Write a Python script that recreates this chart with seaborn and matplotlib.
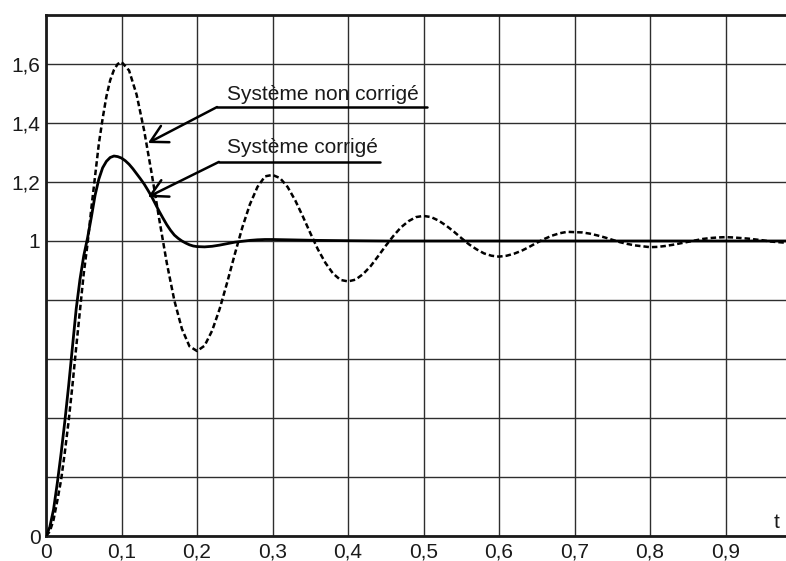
import matplotlib
matplotlib.use("Agg")
import matplotlib.pyplot as plt
import numpy as np
import pandas as pd
import seaborn as sns

# uncorrected system (dashed)
t_nc = [0.000, 0.005, 0.010, 0.015, 0.020, 0.025, 0.030, 0.035, 0.040, 0.045,
        0.050, 0.055, 0.060, 0.065, 0.070, 0.075, 0.080, 0.085, 0.090, 0.095,
        0.10, 0.11, 0.12, 0.13, 0.14, 0.15, 0.16, 0.17, 0.18, 0.19,
        0.20, 0.21, 0.22, 0.23, 0.24, 0.25, 0.26, 0.27, 0.28, 0.29,
        0.30, 0.31, 0.32, 0.33, 0.34, 0.35, 0.36, 0.37, 0.38, 0.39,
        0.40, 0.41, 0.42, 0.43, 0.44, 0.45, 0.46, 0.47, 0.48, 0.49,
        0.50, 0.51, 0.52, 0.53, 0.54, 0.55, 0.56, 0.57, 0.58, 0.59,
        0.60, 0.61, 0.62, 0.63, 0.64, 0.65, 0.66, 0.67, 0.68, 0.69,
        0.70, 0.71, 0.72, 0.73, 0.74, 0.75, 0.76, 0.77, 0.78, 0.79,
        0.80, 0.81, 0.82, 0.83, 0.84, 0.85, 0.86, 0.87, 0.88, 0.89,
        0.90, 0.91, 0.92, 0.93, 0.94, 0.95, 0.96, 0.97, 0.98]
y_nc = [0.000, 0.015, 0.055, 0.120, 0.190, 0.285, 0.390, 0.510, 0.640, 0.765,
        0.890, 0.990, 1.110, 1.220, 1.330, 1.415, 1.490, 1.545, 1.580, 1.600,
        1.607, 1.578, 1.496, 1.374, 1.228, 1.073, 0.925, 0.798, 0.702, 0.643,
        0.627, 0.645, 0.696, 0.770, 0.860, 0.955, 1.046, 1.124, 1.183, 1.219,
        1.224, 1.213, 1.183, 1.138, 1.084, 1.027, 0.972, 0.926, 0.890, 0.868,
        0.863, 0.869, 0.888, 0.915, 0.949, 0.984, 1.017, 1.046, 1.067, 1.081,
        1.085, 1.081, 1.069, 1.052, 1.032, 1.010, 0.989, 0.972, 0.958, 0.950,
        0.947, 0.950, 0.957, 0.967, 0.980, 0.994, 1.007, 1.018, 1.026, 1.031,
        1.030, 1.029, 1.025, 1.019, 1.012, 1.004, 0.996, 0.990, 0.985, 0.982,
        0.979, 0.980, 0.983, 0.987, 0.992, 0.997, 1.002, 1.007, 1.010, 1.012,
        1.013, 1.012, 1.010, 1.008, 1.005, 1.002, 0.998, 0.996, 0.994]

# corrected system (solid)
t_c = [0.000, 0.005, 0.010, 0.015, 0.020, 0.025, 0.030, 0.035, 0.040, 0.045,
       0.050, 0.055, 0.060, 0.065, 0.070, 0.075, 0.080, 0.085, 0.090, 0.095,
       0.100, 0.105, 0.110, 0.115, 0.120, 0.125, 0.130, 0.135, 0.140, 0.145,
       0.150, 0.155, 0.160, 0.165, 0.170, 0.175, 0.180, 0.185, 0.190, 0.195,
       0.20, 0.21, 0.22, 0.23, 0.24, 0.25, 0.26, 0.27, 0.28, 0.29,
       0.30, 0.32, 0.34, 0.36, 0.40, 0.45, 0.50, 0.60, 0.70, 0.80, 0.90, 0.98]
y_c = [0.000, 0.030, 0.090, 0.180, 0.280, 0.390, 0.510, 0.640, 0.770, 0.870,
       0.950, 1.010, 1.080, 1.155, 1.210, 1.248, 1.270, 1.283, 1.288, 1.286,
       1.281, 1.272, 1.260, 1.245, 1.228, 1.211, 1.193, 1.172, 1.150, 1.125,
       1.100, 1.077, 1.055, 1.036, 1.020, 1.009, 1.000, 0.993, 0.987, 0.983,
       0.981, 0.980, 0.982, 0.986, 0.991, 0.996, 0.999, 1.002, 1.004, 1.005,
       1.005, 1.004, 1.003, 1.002, 1.001, 1.000, 1.000, 1.000, 1.000, 1.000, 1.000, 1.000]

x_ticks = [0.0, 0.1, 0.2, 0.3, 0.4, 0.5, 0.6, 0.7, 0.8, 0.9]
x_labels = ["0", "0,1", "0,2", "0,3", "0,4", "0,5", "0,6", "0,7", "0,8", "0,9"]
y_ticks = [0.0, 0.2, 0.4, 0.6, 0.8, 1.0, 1.2, 1.4, 1.6]
y_labels = ["0", "", "", "", "", "1", "1,2", "1,4", "1,6"]

sns.set_style("white")
plt.rcParams["font.family"] = ["Liberation Sans", "DejaVu Sans"]

fig = plt.figure(figsize=(7.86, 5.61), dpi=100)
ax = fig.add_axes([46 / 786, 25 / 561, 740 / 786, 521 / 561])

df_nc = pd.DataFrame({"t": t_nc, "y": y_nc})
df_c = pd.DataFrame({"t": t_c, "y": y_c})
sns.lineplot(data=df_nc, x="t", y="y", ax=ax, color="black", lw=1.8,
             linestyle=(0, (2.2, 1.2)), zorder=3)
sns.lineplot(data=df_c, x="t", y="y", ax=ax, color="black", lw=2.0, zorder=4,
             solid_joinstyle="round")

ax.set_xlim(0, 0.98)
ax.set_ylim(0, 1.766)
ax.set_xticks(x_ticks)
ax.set_xticklabels(x_labels)
ax.set_yticks(y_ticks)
ax.set_yticklabels(y_labels)
ax.tick_params(length=0, labelsize=15, colors="#1a1a1a")
ax.tick_params(axis="x", pad=5)
ax.tick_params(axis="y", pad=4)
ax.set_xlabel("")
ax.set_ylabel("")
ax.grid(True, color="#2e2e2e", lw=1.0)
ax.set_axisbelow(True)

for side in ["left", "bottom", "top"]:
    ax.spines[side].set_visible(True)
    ax.spines[side].set_color("#1a1a1a")
    ax.spines[side].set_linewidth(2.0)
ax.spines["right"].set_visible(False)

# annotations
arrow_kw = dict(arrowstyle="->,head_length=0.55,head_width=0.3", lw=1.8,
                color="black", shrinkA=0, shrinkB=0, mutation_scale=22)
ax.plot([0.2265, 0.5046], [1.454, 1.454], color="black", lw=1.8)
ax.annotate("", xy=(0.135, 1.332), xytext=(0.2265, 1.454), arrowprops=arrow_kw)
ax.text(0.2397, 1.478, "Système non corrigé", fontsize=15, color="#1a1a1a")

ax.plot([0.229, 0.4424], [1.268, 1.268], color="black", lw=1.8)
ax.annotate("", xy=(0.135, 1.149), xytext=(0.229, 1.268), arrowprops=arrow_kw)
ax.text(0.2397, 1.298, "Système corrigé", fontsize=15, color="#1a1a1a")

ax.text(0.967, 0.047, "t", fontsize=15, color="#1a1a1a", ha="center", va="center")

fig.savefig("out.png", dpi=100)
